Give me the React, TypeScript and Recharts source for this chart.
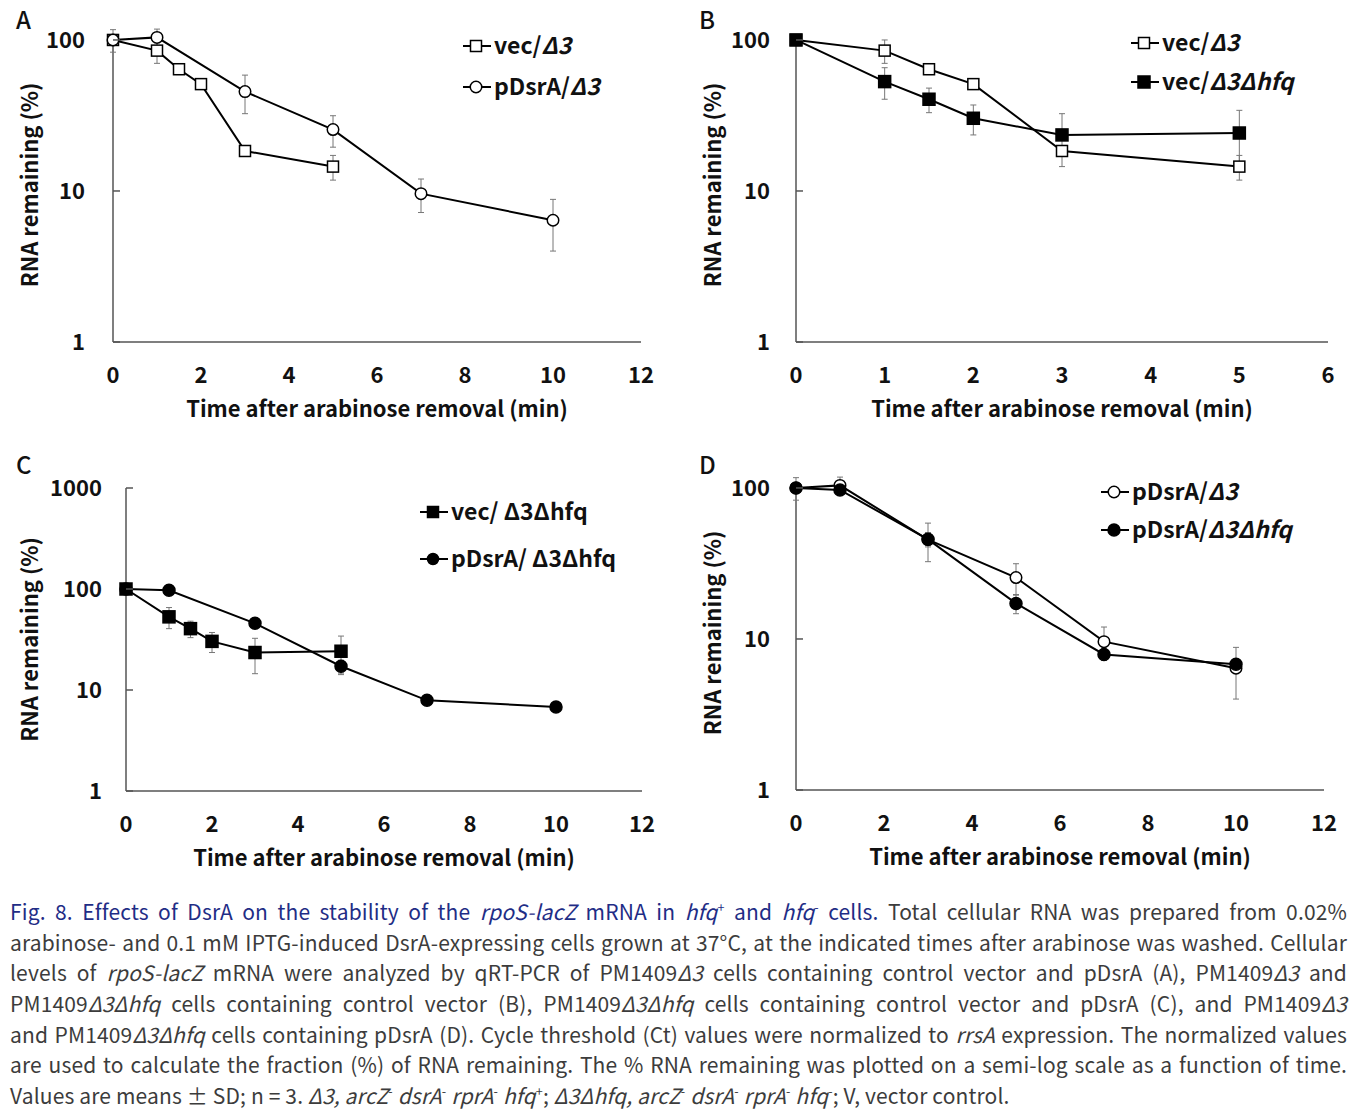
import React from 'react';
import { ErrorBar, Line, LineChart, ReferenceLine, XAxis, YAxis } from 'recharts';

const FONT = '"Noto Sans CJK KR", "Noto Sans", sans-serif';
const INK = '#111';
const AXIS = '#555';

// sampling times (min)
const timesVec = [0, 1, 1.5, 2, 3, 5];
const timesPDsrA = [0, 1, 3, 5, 7, 10];

// RNA remaining (%) and SD
const vecD3 = [100, 85, 64, 51, 18.4, 14.5];
const vecD3Sd = [0, 15, 5, 2, 1, 2.7];
const pDsrAD3 = [100, 104, 45.5, 25.5, 9.6, 6.4];
const pDsrAD3Sd = [17, 14, 13, 6, 2.4, 2.4];
const vecD3hfq = [100, 53, 40.5, 30.3, 23.5, 24.2];
const vecD3hfqSd = [0, 12.5, 7.5, 6.8, 9, 10];
const pDsrAD3hfq = [100, 97, 45.7, 17.2, 7.9, 6.8];
const pDsrAD3hfqSd = [0, 3, 5, 2.5, 0.7, 0.5];

const ticksX12 = [0, 2, 4, 6, 8, 10, 12];
const ticksX6 = [0, 1, 2, 3, 4, 5, 6];
const ticksY100 = [1, 10, 100];
const ticksY1000 = [1, 10, 100, 1000];

const xTitle = 'Time after arabinose removal (min)';
const yTitle = 'RNA remaining (%)';

type Pt = { t: number; v: number; sd: number };
type Shape = 'square' | 'circle';
type Series = { key: string; points: Pt[]; shape: Shape; filled: boolean; size: number };
type LegendPart = { text: string; italic?: boolean };
type LegendRow = { shape: Shape; filled: boolean; size: number; parts: LegendPart[] };

const toPoints = (t: number[], v: number[], sd: number[]): Pt[] =>
  t.map((x, i) => ({ t: x, v: v[i], sd: sd[i] }));

const sVecD3: Series = { key: 'vecD3', points: toPoints(timesVec, vecD3, vecD3Sd), shape: 'square', filled: false, size: 11 };
const sPDsrAD3: Series = { key: 'pDsrAD3', points: toPoints(timesPDsrA, pDsrAD3, pDsrAD3Sd), shape: 'circle', filled: false, size: 11.5 };
const sVecD3hfq: Series = { key: 'vecD3hfq', points: toPoints(timesVec, vecD3hfq, vecD3hfqSd), shape: 'square', filled: true, size: 12 };
const sPDsrAD3hfq: Series = { key: 'pDsrAD3hfq', points: toPoints(timesPDsrA, pDsrAD3hfq, pDsrAD3hfqSd), shape: 'circle', filled: true, size: 12 };

function Marker({ cx, cy, shape, filled, size }: { cx: number; cy: number; shape: Shape; filled: boolean; size: number }) {
  const fill = filled ? '#000' : '#fff';
  if (shape === 'square') {
    return <rect x={cx - size / 2} y={cy - size / 2} width={size} height={size} fill={fill} stroke="#000" strokeWidth={1.5} />;
  }
  return <circle cx={cx} cy={cy} r={size / 2} fill={fill} stroke="#000" strokeWidth={1.5} />;
}

function YTick(props: any) {
  const { x, y, payload, gap } = props;
  const axisX = x + gap;
  return (
    <g>
      <line x1={axisX} x2={axisX + 7} y1={y} y2={y} stroke={AXIS} strokeWidth={1.5} />
      <text x={x} y={y} dy="0.36em" textAnchor="end" fontFamily={FONT} fontWeight={700} fontSize={22} fill={INK}>
        {payload.value}
      </text>
    </g>
  );
}

function XTick(props: any) {
  const { x, y, payload } = props;
  return (
    <text x={x} y={y} dy="0.36em" textAnchor="middle" fontFamily={FONT} fontWeight={700} fontSize={22} fill={INK}>
      {payload.value}
    </text>
  );
}

type Box = { x: number; y: number; w: number; h: number };
type Plot = { l: number; r: number; t: number; b: number };

interface PanelProps {
  letter: string;
  box: Box;
  plot: Plot;
  xMax: number;
  xTicks: number[];
  yTop: number;
  yTicks: number[];
  axisTop: number;
  tickGap: number;
  series: Series[];
  legend: LegendRow[];
  legendX: number;
  legendRows: number[];
}

const X_AXIS_H = 85;

function Panel({ letter, box, plot, xMax, xTicks, yTop, yTicks, axisTop, tickGap, series, legend, legendX, legendRows }: PanelProps) {
  const margin = {
    top: plot.t - box.y,
    right: box.x + box.w - plot.r,
    left: 0,
    bottom: box.y + box.h - plot.b - X_AXIS_H,
  };
  const titleStyle = { fontFamily: FONT, fontWeight: 700, fontSize: 22, fill: INK };
  const lx = legendX - box.x;
  return (
    <div style={{ position: 'absolute', left: box.x, top: box.y }}>
      <LineChart width={box.w} height={box.h} margin={margin}>
        <XAxis
          type="number"
          dataKey="t"
          domain={[0, xMax]}
          ticks={xTicks}
          interval={0}
          height={X_AXIS_H}
          axisLine={{ stroke: AXIS, strokeWidth: 1.5 }}
          tickLine={false}
          tickSize={0}
          tickMargin={33}
          tick={(p: any) => <XTick {...p} />}
          label={{ value: xTitle, position: 'insideBottom', offset: X_AXIS_H - 75, style: titleStyle }}
        />
        <YAxis
          type="number"
          scale="log"
          domain={[1, yTop]}
          ticks={yTicks}
          interval={0}
          width={plot.l - box.x}
          axisLine={false}
          tickLine={false}
          tickSize={0}
          tickMargin={tickGap}
          tick={(p: any) => <YTick {...p} gap={tickGap} />}
          label={{ value: yTitle, angle: -90, position: 'insideLeft', offset: 30, style: { ...titleStyle, textAnchor: 'middle' } }}
        />
        <ReferenceLine segment={[{ x: 0, y: 1 }, { x: 0, y: axisTop }]} stroke={AXIS} strokeWidth={1.5} />
        {series.map((s) => (
          <Line
            key={s.key}
            data={s.points}
            dataKey="v"
            type="linear"
            stroke="#000"
            strokeWidth={2}
            isAnimationActive={false}
            activeDot={false}
            dot={(p: any) => (
              <Marker key={`${s.key}-${p.index}`} cx={p.cx} cy={p.cy} shape={s.shape} filled={s.filled} size={s.size} />
            )}
          >
            <ErrorBar dataKey="sd" direction="y" width={3} stroke="#777" strokeWidth={1} />
          </Line>
        ))}
        <text x={16} y={29} fontFamily={FONT} fontWeight={500} fontSize={24} fill={INK}>
          {letter}
        </text>
        {legend.map((row, i) => {
          const cy = legendRows[i] - box.y;
          return (
            <g key={i}>
              <line x1={lx} x2={lx + 28} y1={cy} y2={cy} stroke="#000" strokeWidth={2} />
              <Marker cx={lx + 13} cy={cy} shape={row.shape} filled={row.filled} size={row.size} />
              <text x={lx + 31} y={cy} dy="0.36em" fontFamily={FONT} fontWeight={700} fontSize={23} fill={INK}>
                {row.parts.map((pt, j) => (
                  <tspan key={j} fontStyle={pt.italic ? 'italic' : 'normal'}>
                    {pt.text}
                  </tspan>
                ))}
              </text>
            </g>
          );
        })}
      </LineChart>
    </div>
  );
}

const BLUE = '#1f2d86';
const BODY = '#3c3c3c';
const sup = (s: string) => (
  <span style={{ fontSize: '0.6em', position: 'relative', top: '-0.6em' }}>{s}</span>
);

function Caption() {
  const line = (content: React.ReactNode, last = false) => (
    <div
      style={{
        height: 30.67,
        lineHeight: '30.67px',
        textAlign: last ? 'left' : 'justify',
        textAlignLast: last ? 'left' : 'justify',
        whiteSpace: 'normal',
        overflow: 'visible',
      }}
    >
      {content}
    </div>
  );
  return (
    <div
      style={{
        position: 'absolute',
        left: 10,
        top: 896,
        width: 1337,
        fontFamily: FONT,
        fontSize: 21,
        letterSpacing: 0.15,
        color: BODY,
      }}
    >
      {line(
        <>
          <span style={{ color: BLUE }}>
            Fig. 8. Effects of DsrA on the stability of the <i>rpoS-lacZ</i> mRNA in <i>hfq</i>
            {sup('+')} and <i>hfq</i>
            {sup('-')} cells.
          </span>{' '}
          Total cellular RNA was prepared from 0.02%
        </>
      )}
      {line(<>arabinose- and 0.1 mM IPTG-induced DsrA-expressing cells grown at 37°C, at the indicated times after arabinose was washed. Cellular</>)}
      {line(
        <>
          levels of <i>rpoS-lacZ</i> mRNA were analyzed by qRT-PCR of PM1409<i>Δ3</i> cells containing control vector and pDsrA (A), PM1409<i>Δ3</i> and
        </>
      )}
      {line(
        <>
          PM1409<i>Δ3Δhfq</i> cells containing control vector (B), PM1409<i>Δ3Δhfq</i> cells containing control vector and pDsrA (C), and PM1409<i>Δ3</i>
        </>
      )}
      {line(
        <>
          and PM1409<i>Δ3Δhfq</i> cells containing pDsrA (D). Cycle threshold (Ct) values were normalized to <i>rrsA</i> expression. The normalized values
        </>
      )}
      {line(<>are used to calculate the fraction (%) of RNA remaining. The % RNA remaining was plotted on a semi-log scale as a function of time.</>)}
      {line(
        <>
          Values are means ± SD; n = 3. <i>Δ3, arcZ</i>
          {sup('-')} <i>dsrA</i>
          {sup('-')} <i>rprA</i>
          {sup('-')} <i>hfq</i>
          {sup('+')}; <i>Δ3Δhfq, arcZ</i>
          {sup('-')} <i>dsrA</i>
          {sup('-')} <i>rprA</i>
          {sup('-')} <i>hfq</i>
          {sup('-')}; V, vector control.
        </>,
        true
      )}
    </div>
  );
}

const legendA: LegendRow[] = [
  { shape: 'square', filled: false, size: 11, parts: [{ text: 'vec/' }, { text: 'Δ3', italic: true }] },
  { shape: 'circle', filled: false, size: 11.5, parts: [{ text: 'pDsrA/' }, { text: 'Δ3', italic: true }] },
];
const legendB: LegendRow[] = [
  { shape: 'square', filled: false, size: 11, parts: [{ text: 'vec/' }, { text: 'Δ3', italic: true }] },
  { shape: 'square', filled: true, size: 12, parts: [{ text: 'vec/' }, { text: 'Δ3Δhfq', italic: true }] },
];
const legendC: LegendRow[] = [
  { shape: 'square', filled: true, size: 11, parts: [{ text: 'vec/ Δ3Δhfq' }] },
  { shape: 'circle', filled: true, size: 11, parts: [{ text: 'pDsrA/ Δ3Δhfq' }] },
];
const legendD: LegendRow[] = [
  { shape: 'circle', filled: false, size: 11.5, parts: [{ text: 'pDsrA/' }, { text: 'Δ3', italic: true }] },
  { shape: 'circle', filled: true, size: 12, parts: [{ text: 'pDsrA/' }, { text: 'Δ3Δhfq', italic: true }] },
];

export default function App() {
  return (
    <div style={{ position: 'absolute', left: 0, top: 0, width: 1367, height: 1112, background: '#fff', overflow: 'hidden' }}>
      <Panel
        letter="A"
        box={{ x: 0, y: 0, w: 680, h: 440 }}
        plot={{ l: 113, r: 641, t: 28, b: 342 }}
        xMax={12}
        xTicks={ticksX12}
        yTop={120}
        yTicks={ticksY100}
        axisTop={100}
        tickGap={28}
        series={[sVecD3, sPDsrAD3]}
        legend={legendA}
        legendX={463}
        legendRows={[46, 87]}
      />
      <Panel
        letter="B"
        box={{ x: 683, y: 0, w: 684, h: 440 }}
        plot={{ l: 796, r: 1328, t: 28, b: 342 }}
        xMax={6}
        xTicks={ticksX6}
        yTop={120}
        yTicks={ticksY100}
        axisTop={100}
        tickGap={26}
        series={[sVecD3, sVecD3hfq]}
        legend={legendB}
        legendX={1131}
        legendRows={[43, 82]}
      />
      <Panel
        letter="C"
        box={{ x: 0, y: 445, w: 680, h: 445 }}
        plot={{ l: 126, r: 642, t: 488, b: 791 }}
        xMax={12}
        xTicks={ticksX12}
        yTop={1000}
        yTicks={ticksY1000}
        axisTop={1000}
        tickGap={24}
        series={[sVecD3hfq, sPDsrAD3hfq]}
        legend={legendC}
        legendX={420}
        legendRows={[512, 559]}
      />
      <Panel
        letter="D"
        box={{ x: 683, y: 445, w: 684, h: 445 }}
        plot={{ l: 796, r: 1324, t: 476, b: 790 }}
        xMax={12}
        xTicks={ticksX12}
        yTop={120}
        yTicks={ticksY100}
        axisTop={100}
        tickGap={26}
        series={[sPDsrAD3, sPDsrAD3hfq]}
        legend={legendD}
        legendX={1101}
        legendRows={[492, 530]}
      />
      <Caption />
    </div>
  );
}
